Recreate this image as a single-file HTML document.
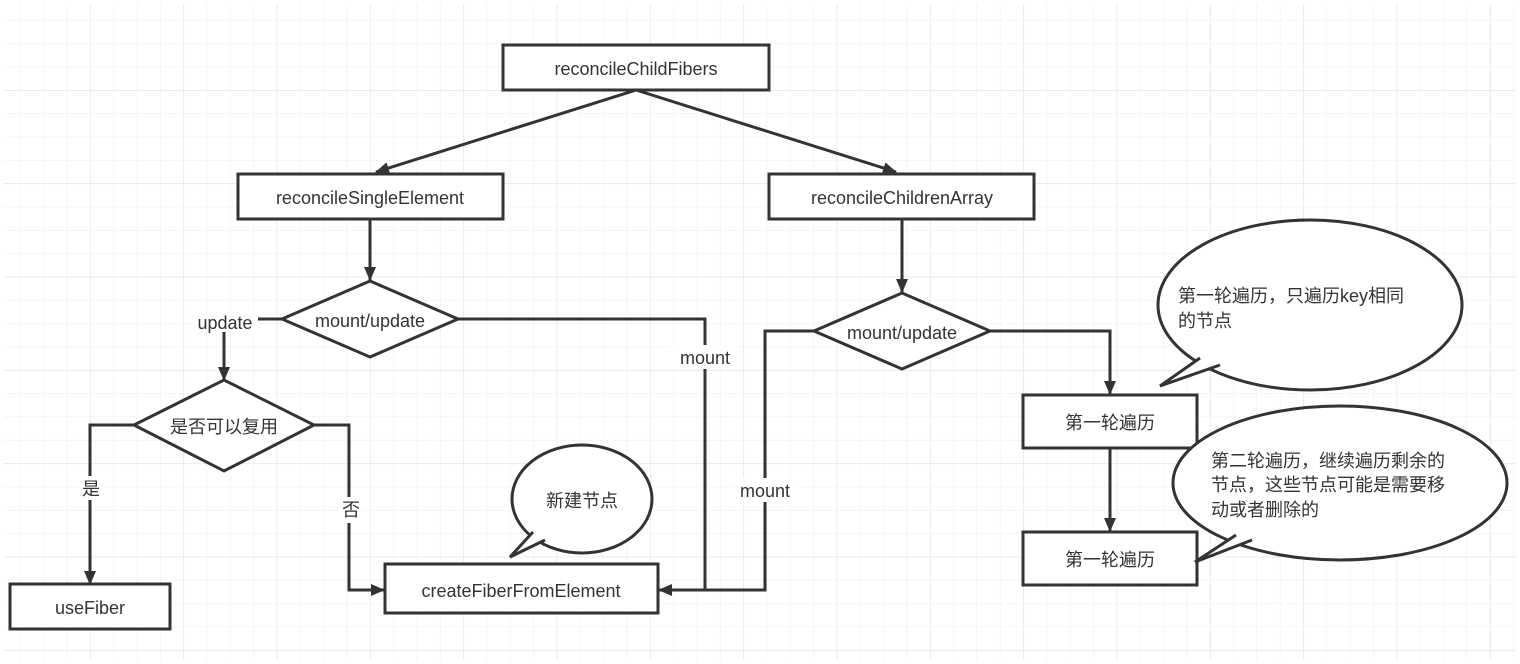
<!DOCTYPE html>
<html><head><meta charset="utf-8"><style>
html,body{margin:0;padding:0;background:#fff;}
svg{display:block;}
text{font-family:"Liberation Sans","Noto Sans CJK SC",sans-serif;font-size:18px;fill:#333;}
</style></head><body>
<svg width="1520" height="664" viewBox="0 0 1520 664" xmlns="http://www.w3.org/2000/svg">
<defs>
<pattern id="minor" x="-3.3" y="-3.3" width="23.33" height="23.33" patternUnits="userSpaceOnUse">
<path d="M0 0H23.33M0 0V23.33" stroke="#ececec" stroke-width="1" fill="none"/>
</pattern>
<pattern id="major" x="-3.3" y="-3.3" width="93.33" height="93.33" patternUnits="userSpaceOnUse">
<path d="M0 0H93.33M0 0V93.33" stroke="#e2e2e2" stroke-width="1.2" fill="none"/>
</pattern>
<marker id="ah" viewBox="0 0 14 12" refX="13" refY="6" markerWidth="14" markerHeight="12" markerUnits="userSpaceOnUse" orient="auto">
<path d="M0 0L14 6L0 12Z" fill="#333"/>
</marker>
</defs>
<rect x="4" y="4" width="1512" height="656" fill="url(#minor)"/>
<rect x="4" y="4" width="1512" height="656" fill="url(#major)"/>

<g stroke="#333" stroke-width="3" fill="none">
<path d="M636 90L376 172" marker-end="url(#ah)"/>
<path d="M636 90L896 172" marker-end="url(#ah)"/>
<path d="M370 219V280" marker-end="url(#ah)"/>
<path d="M902 219V292" marker-end="url(#ah)"/>
<path d="M282 319H224V380" marker-end="url(#ah)"/>
<path d="M134 425H90V584" marker-end="url(#ah)"/>
<path d="M314 425H349V590H384" marker-end="url(#ah)"/>
<path d="M458 319H705V590H659" marker-end="url(#ah)"/>
<path d="M814 331H765V590H705"/>
<path d="M990 331H1110V394" marker-end="url(#ah)"/>
<path d="M1110 448V531" marker-end="url(#ah)"/>
</g>
<g stroke="#333" stroke-width="3" fill="#fff">
<rect x="503" y="45" width="266" height="45"/>
<rect x="238" y="174" width="265" height="45"/>
<rect x="769" y="174" width="265" height="45"/>
<path d="M282 319L370 281L458 319L370 357Z"/>
<path d="M814 331L902 293L990 331L902 369Z"/>
<path d="M134 425L224 380L314 425L224 471Z"/>
<rect x="10" y="584" width="160" height="45"/>
<rect x="385" y="564" width="273" height="49"/>
<rect x="1023" y="395" width="174" height="53"/>
<rect x="1023" y="532" width="174" height="53"/>
<!-- bubbles -->
<ellipse cx="1310" cy="305" rx="152" ry="85"/>
<path d="M1200 358 L1160 386 L1220 365"/>
<ellipse cx="1340" cy="483" rx="167" ry="77"/>
<path d="M1236 535 L1195 562 L1252 540"/>
<ellipse cx="582" cy="499" rx="70" ry="54"/>
<path d="M533 532 L510 557 L545 540"/>
</g>
<g fill="#fff">
<rect x="192" y="310" width="66" height="22"/>
<rect x="670" y="345" width="68" height="24"/>
<rect x="732" y="478" width="66" height="24"/>
<rect x="80" y="476" width="22" height="24"/>
<rect x="340" y="497" width="22" height="26"/>
</g>
<g text-anchor="middle">
<text x="636" y="75">reconcileChildFibers</text>
<text x="370" y="204">reconcileSingleElement</text>
<text x="902" y="204">reconcileChildrenArray</text>
<text x="370" y="327">mount/update</text>
<text x="902" y="339">mount/update</text>
<text x="224" y="433">是否可以复用</text>
<text x="90" y="614">useFiber</text>
<text x="521" y="597">createFiberFromElement</text>
<text x="1110" y="429">第一轮遍历</text>
<text x="1110" y="566">第一轮遍历</text>
<text x="582" y="507">新建节点</text>
<text x="225" y="329">update</text>
<text x="705" y="364">mount</text>
<text x="765" y="497">mount</text>
<text x="91" y="495">是</text>
<text x="351" y="516">否</text>
</g>
<text x="1178" y="302">第一轮遍历，只遍历key相同</text>
<text x="1178" y="327">的节点</text>
<text x="1211" y="467">第二轮遍历，继续遍历剩余的</text>
<text x="1211" y="491">节点，这些节点可能是需要移</text>
<text x="1211" y="516">动或者删除的</text>
</svg>
</body></html>
